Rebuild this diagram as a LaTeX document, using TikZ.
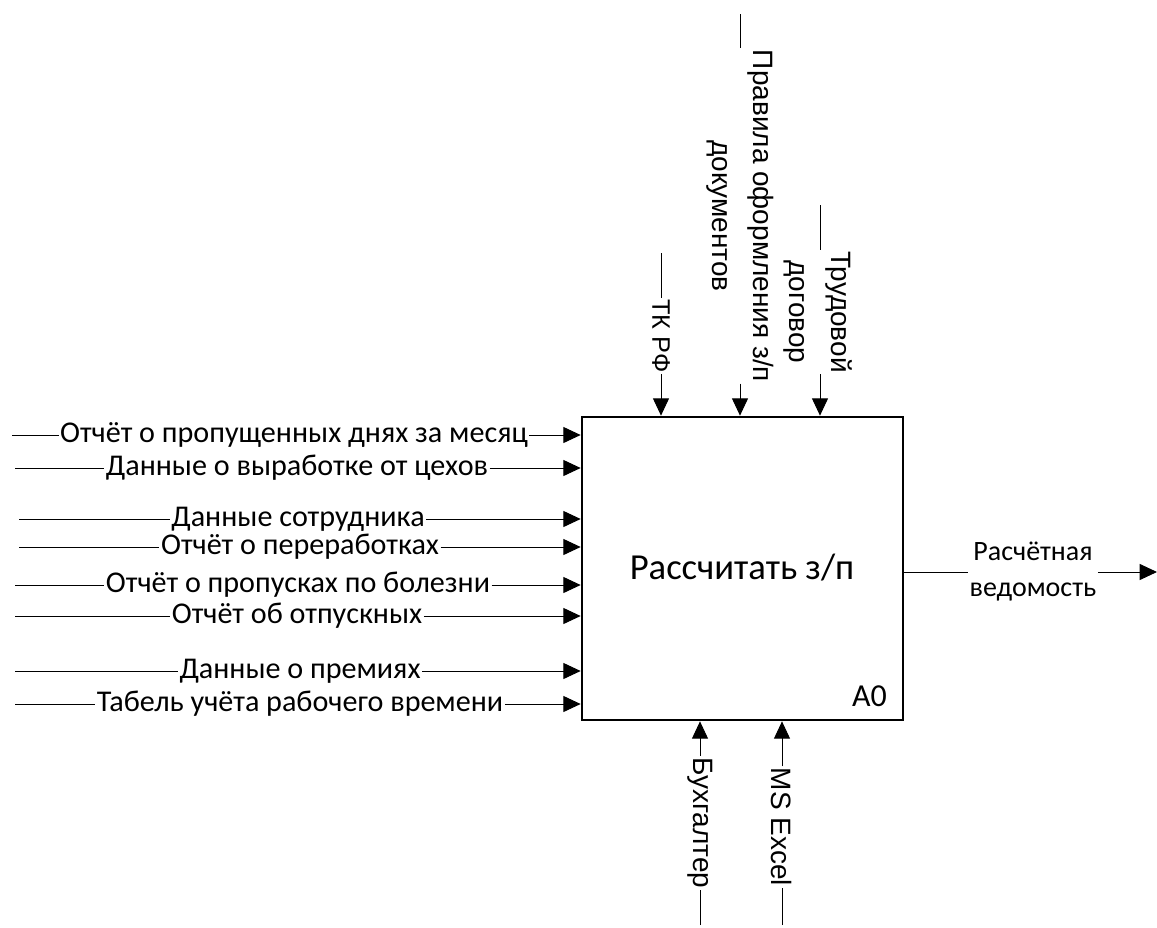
\documentclass[tikz,border=0pt]{standalone}
\usepackage{fontspec}
\setmainfont{Carlito}
\newfontfamily\arialf{Liberation Sans}
\usetikzlibrary{arrows.meta}
\begin{document}
\begin{tikzpicture}[x=0.75pt,y=-0.75pt,
  ln/.style={line width=0.75pt},
  arr/.style={ln,-{Triangle[length=13pt,width=12pt]}},
  lab/.style={inner sep=1pt,font=\fontsize{22.6}{26}\selectfont},
  vlab/.style={inner sep=1pt,rotate=-90,align=center,font=\arialf\fontsize{21}{31}\selectfont},
  box/.style={draw,line width=2pt,minimum width=240.75pt,minimum height=227.25pt,inner sep=0pt}]
\useasboundingbox (0,0) rectangle (1157,928);
\fill[white] (0,0) rectangle (1157,928);
% function box
\node[box] (A) at (742.5,568.5) {};
\node[font=\fontsize{27.5}{30}\selectfont] (Atxt) at (742,568) {Рассчитать з/п};
\node[font=\fontsize{24}{26}\selectfont,anchor=south east,inner sep=0pt] (A0) at (887,707) {A0};
% inputs
\coordinate (s1) at (12,435);
\coordinate (s2) at (15,468);
\coordinate (s3) at (19,519);
\coordinate (s4) at (19,547);
\coordinate (s5) at (15,585);
\coordinate (s6) at (15,616);
\coordinate (s7) at (15,671);
\coordinate (s8) at (15,704);
\node[lab] (l1) at (294,435) {Отчёт о пропущенных днях за месяц};
\node[lab] (l2) at (297,468) {Данные о выработке от цехов};
\node[lab] (l3) at (298,519) {Данные сотрудника};
\node[lab] (l4) at (300,547) {Отчёт о переработках};
\node[lab] (l5) at (298,585) {Отчёт о пропусках по болезни};
\node[lab] (l6) at (297,616) {Отчёт об отпускных};
\node[lab] (l7) at (300,671) {Данные о премиях};
\node[lab] (l8) at (300,704) {Табель учёта рабочего времени};
\foreach \i in {1,...,8}{
  \draw[ln] (s\i) -- (l\i.west);
  \draw[arr] (l\i.east) -- (l\i.east -| A.west);
}
% controls (rotated -90: west anchor is on top, east anchor at bottom)
\coordinate (c1) at (661,253);
\coordinate (c2) at (740,14);
\coordinate (c3) at (820,205);
\node[vlab,font=\arialf\fontsize{19}{22}\selectfont] (k1) at (661,336) {ТК РФ};
\node[vlab] (k2) at (740,216) {Правила оформления з/п\\документов};
\node[vlab] (k3) at (818,312) {Трудовой\\договор};
\draw[ln] (c1) -- (k1.west);
\draw[arr] (k1.east) -- (k1.east |- A.north);
\draw[ln] (c2) -- (c2 |- k2.west);
\draw[arr] (c2 |- k2.east) -- (c2 |- A.north);
\draw[ln] (c3) -- (c3 |- k3.west);
\draw[arr] (c3 |- k3.east) -- (c3 |- A.north);
% mechanisms
\coordinate (m1) at (700,925);
\coordinate (m2) at (782,925);
\node[vlab] (b1) at (700,823) {Бухгалтер};
\node[vlab] (b2) at (782,827) {MS Excel};
\draw[arr] (b1.west) -- (b1.west |- A.south);
\draw[ln] (m1) -- (b1.east);
\draw[arr] (b2.west) -- (b2.west |- A.south);
\draw[ln] (m2) -- (b2.east);
% output
\coordinate (o1) at (1157,572);
\node[align=center,inner sep=1pt,font=\fontsize{21}{27}\selectfont] (out) at (1033,572) {Расчётная\\ведомость};
\draw[ln] (A.east |- out) -- (out.west);
\draw[arr] (out.east) -- (o1);
\end{tikzpicture}
\end{document}
